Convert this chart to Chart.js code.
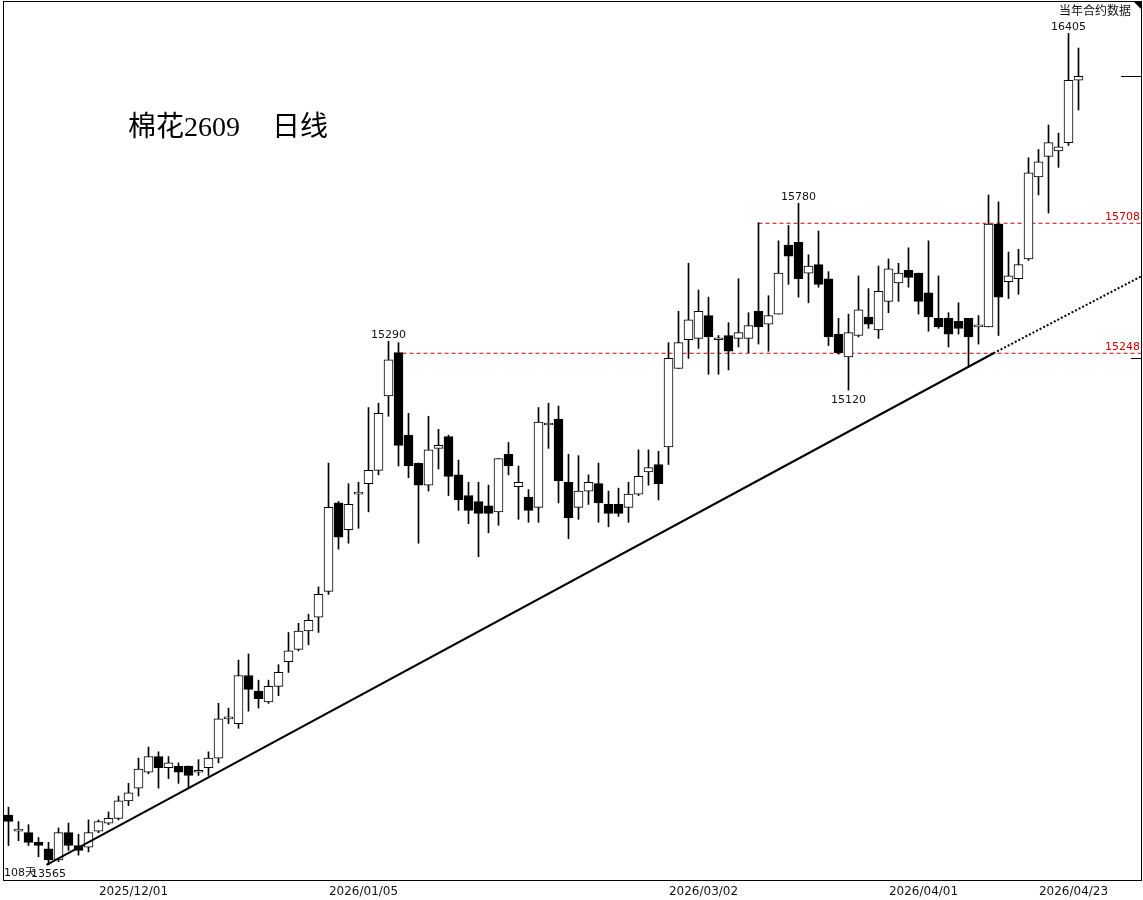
<!DOCTYPE html>
<html><head><meta charset="utf-8">
<script src="https://cdn.jsdelivr.net/npm/chart.js@4/dist/chart.umd.min.js"></script>
<style>html,body{margin:0;padding:0;background:#fff}#wrap{width:1143px;height:900px;position:relative}</style>
</head><body><div id="wrap"><canvas id="c" width="1143" height="900"></canvas></div>
<script>
// ---- data (daily candles, 108 trading days) ----
const openP  = [13720,13670,13665,13635,13615,13580,13665,13625,13620,13670,13695,13710,13765,13805,13855,13905,13870,13875,13875,13855,
13870,13900,14025,14010,14165,14115,14080,14130,14210,14250,14310,14355,14440,14735,14645,14765,14800,14845,15100,15250,
14965,14870,14795,14920,14960,14830,14760,14740,14725,14705,14900,14790,14755,14720,15000,15020,14805,14720,14775,14800,
14730,14730,14720,14765,14840,14865,14925,15195,15295,15300,15380,15295,15310,15300,15300,15395,15350,15385,15630,15640,
15530,15560,15510,15315,15235,15310,15375,15330,15430,15495,15540,15530,15460,15370,15370,15360,15370,15340,15340,15705,
15500,15510,15580,15875,15950,15970,16000,16230];
const highP  = [13745,13700,13690,13650,13635,13680,13695,13660,13705,13705,13730,13780,13820,13900,13935,13920,13905,13885,13875,13895,
13920,14075,14060,14215,14235,14150,14150,14200,14305,14335,14365,14455,14870,14740,14800,14805,15060,15075,15290,15285,
15040,14870,15030,14985,14965,14880,14805,14805,14795,14885,14940,14860,14780,15060,15075,15065,14900,14895,14830,14870,
14775,14785,14805,14915,14915,14910,15285,15395,15565,15470,15445,15310,15355,15510,15390,15710,15450,15645,15700,15780,
15595,15680,15535,15370,15385,15520,15475,15555,15580,15565,15620,15530,15645,15520,15390,15425,15370,15380,15810,15785,
15605,15615,15945,15975,16065,16035,16405,16350];
const lowP   = [13625,13640,13625,13590,13565,13575,13610,13595,13605,13665,13690,13705,13750,13780,13850,13805,13835,13820,13805,13845,
13845,13885,14010,13995,14050,14060,14075,14100,14175,14245,14265,14305,14430,14580,14600,14650,14705,14830,15030,14860,
14820,14600,14775,14850,14760,14710,14665,14555,14635,14660,14830,14680,14670,14670,14920,14735,14615,14680,14730,14670,
14655,14690,14670,14760,14795,14745,14865,15195,15230,15265,15175,15175,15190,15270,15250,15280,15255,15385,15490,15445,
15425,15480,15275,15245,15120,15305,15335,15300,15390,15430,15480,15385,15325,15335,15270,15315,15200,15280,15340,15310,
15440,15455,15575,15810,15745,15910,15990,16120];
const closeP = [13700,13670,13635,13625,13580,13665,13625,13610,13665,13700,13710,13765,13790,13865,13905,13870,13885,13855,13845,13860,
13900,14025,14025,14165,14120,14090,14130,14175,14245,14310,14345,14430,14720,14620,14730,14765,14845,15040,15225,14930,
14860,14795,14915,14930,14825,14745,14710,14700,14700,14885,14860,14805,14710,15010,15000,14810,14685,14775,14805,14735,
14700,14700,14765,14825,14855,14800,15230,15285,15365,15395,15305,15300,15255,15320,15345,15340,15380,15530,15590,15510,
15555,15490,15305,15250,15320,15400,15350,15465,15545,15530,15515,15430,15375,15340,15315,15335,15305,15340,15705,15445,
15520,15560,15890,15930,16000,15985,16230,16245];

const dateLabels = ['2025/12/01','2026/01/05','2026/03/02','2026/04/01','2026/04/23'];
const dateIdx    = [13, 36, 70, 92, 107];

const peakLabels = [
  {i: 38,  v: 15290, pos: 'above'},
  {i: 79,  v: 15780, pos: 'above'},
  {i: 84,  v: 15120, pos: 'below'},
  {i: 106, v: 16405, pos: 'above'},
  {i: 4,   v: 13565, pos: 'below'}
];
const levelValues = [15708, 15248];
const levelStart  = [75, 39.4];
const trendSolid  = [{x: 3.8, y: 13565}, {x: 98.5, y: 15248}];
const trendDotted = [{x: 98.5, y: 15248}, {x: 113.25, y: 15518}];
const rightMarkPrices = [16245, 15233];

const titleText = '棉花2609  日线';
const cornerText = '当年合约数据';
const daysText = '108天';

// ---- build ----
const bodyData = openP.map((o, i) => ({x: i, y: [o, closeP[i]]}));
const wickData = lowP.map((l, i) => ({x: i, y: [l, highP[i]]}));
const bodyFill = openP.map((o, i) => closeP[i] >= o ? '#ffffff' : '#000000');

const overlay = {
  id: 'overlay',
  afterDraw(chart) {
    const {ctx, chartArea: a, scales: {x, y}} = chart;
    ctx.save();
    ctx.strokeStyle = '#000';
    ctx.lineWidth = 1;
    ctx.strokeRect(a.left + 0.5, a.top - 0.5, a.right - a.left, a.bottom - a.top + 1);
    // corner triangle
    ctx.fillStyle = '#000';
    ctx.beginPath();
    ctx.moveTo(a.right - 8, a.top - 1);
    ctx.lineTo(a.right + 1, a.top - 1);
    ctx.lineTo(a.right + 1, a.top + 8);
    ctx.closePath();
    ctx.fill();
    // right marks
    rightMarkPrices.forEach((v, k) => {
      const py = Math.round(y.getPixelForValue(v)) + 0.5;
      ctx.beginPath();
      ctx.moveTo(a.right - (k === 0 ? 20 : 10), py);
      ctx.lineTo(a.right, py);
      ctx.stroke();
    });
    // peak labels
    ctx.font = '11px "DejaVu Sans"';
    ctx.fillStyle = '#111';
    ctx.textAlign = 'center';
    ctx.textBaseline = 'alphabetic';
    peakLabels.forEach(p => {
      const px = x.getPixelForValue(p.i);
      const py = y.getPixelForValue(p.v);
      ctx.fillText(String(p.v), px, p.pos === 'above' ? py - 3 : py + 12.5);
    });
    // level labels
    ctx.fillStyle = '#d00000';
    ctx.textAlign = 'right';
    levelValues.forEach(v => {
      ctx.fillText(String(v), a.right - 1, y.getPixelForValue(v) - 3.5);
    });
    // days text
    ctx.fillStyle = '#111';
    ctx.textAlign = 'left';
    ctx.font = '11px "DejaVu Sans","Noto Sans CJK SC"';
    ctx.fillText(daysText, a.left + 1, 876);
    // corner text
    ctx.font = '12px "Noto Sans CJK SC"';
    ctx.textAlign = 'right';
    ctx.textBaseline = 'middle';
    ctx.fillText(cornerText, 1131, 10);
    // title (two words, wide gap as in the reference)
    ctx.font = '28px "Liberation Serif","Noto Sans CJK SC"';
    ctx.textAlign = 'left';
    ctx.fillStyle = '#000';
    const parts = titleText.split(/\s+/);
    ctx.fillText(parts[0], 128, 129);
    ctx.fillText(parts[1], 272, 129);
    ctx.restore();
  }
};

new Chart(document.getElementById('c'), {
  type: 'bar',
  data: {
    datasets: [
      {type: 'line', data: [{x: levelStart[0], y: levelValues[0]}, {x: 113.25, y: levelValues[0]}],
       borderColor: '#d00000', borderWidth: 1, borderDash: [4, 3], pointRadius: 0, order: 5},
      {type: 'line', data: [{x: levelStart[1], y: levelValues[1]}, {x: 113.25, y: levelValues[1]}],
       borderColor: '#d00000', borderWidth: 1, borderDash: [4, 3], pointRadius: 0, order: 5},
      {type: 'bar', data: wickData, backgroundColor: '#000', borderWidth: 0, barThickness: 1,
       grouped: false, order: 4},
      {type: 'bar', data: bodyData, backgroundColor: bodyFill, borderColor: '#000', borderWidth: 1,
       borderSkipped: false, barThickness: 9, grouped: false, minBarLength: 2, order: 3},
      {type: 'line', data: trendSolid, borderColor: '#000', borderWidth: 2, pointRadius: 0, order: 1},
      {type: 'line', data: trendDotted, borderColor: '#000', borderWidth: 2, borderDash: [2, 2], pointRadius: 0, order: 1}
    ]
  },
  options: {
    responsive: false,
    animation: false,
    events: [],
    layout: {padding: {left: 3, right: 2, top: 2, bottom: 0}},
    plugins: {legend: {display: false}, tooltip: {enabled: false}, title: {display: false}},
    scales: {
      x: {
        type: 'linear', min: -0.55, max: 113.25, offset: false, bounds: 'data',
        grid: {display: false, drawTicks: false}, border: {display: false},
        afterBuildTicks: s => { s.ticks = dateIdx.map(i => ({value: i - 0.5})); },
        afterFit: s => { s.height = 20; },
        ticks: {
          autoSkip: false, maxRotation: 0, minRotation: 0, padding: 5,
          color: '#111', font: {family: 'DejaVu Sans', size: 12},
          callback: v => { const j = dateIdx.findIndex(i => Math.abs(i - 0.5 - v) < 0.01); return j >= 0 ? dateLabels[j] : ''; }
        }
      },
      y: {
        type: 'logarithmic', min: 13518, max: 16523, display: false, beginAtZero: false, bounds: 'data'
      }
    }
  },
  plugins: [overlay]
});
</script>
</body></html>
